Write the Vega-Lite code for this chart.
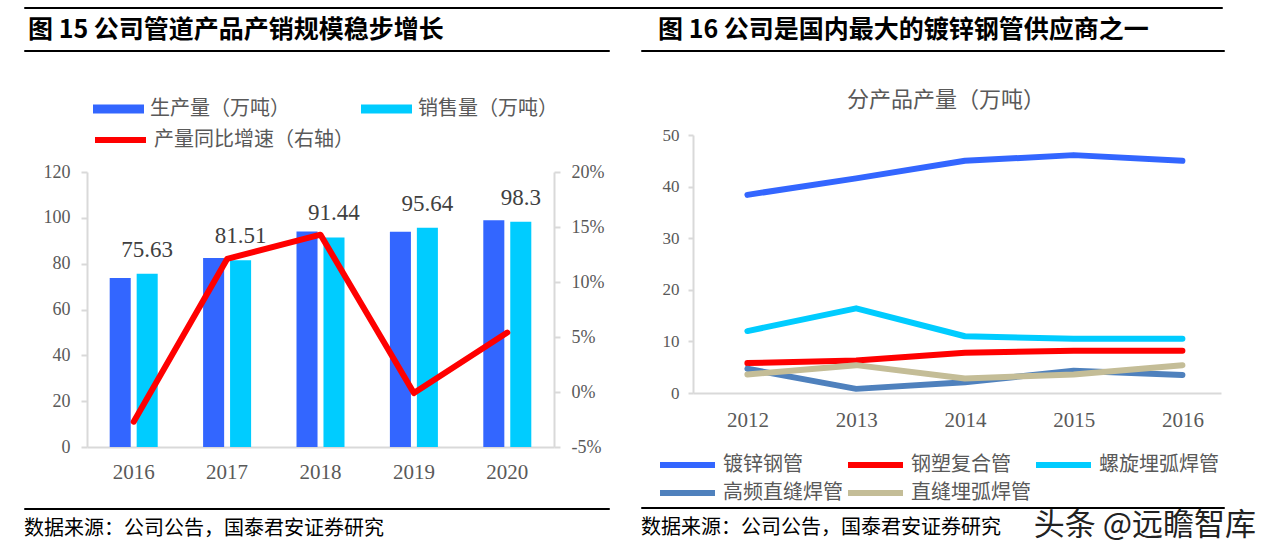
{
  "$schema": "https://vega.github.io/schema/vega-lite/v6.json",
  "background": "white",
  "padding": {"left": 23, "top": 6, "right": 0, "bottom": 0},
  "config": {
    "view": {"stroke": null},
    "axis": {"grid": false, "labelColor": "#595959", "labelFont": "Liberation Serif", "domainColor": "#D9D9D9", "domainWidth": 2, "tickColor": "#D9D9D9", "tickWidth": 2},
    "legend": {"labelFont": "Noto Sans CJK SC", "labelColor": "#595959", "labelFontSize": 20, "labelLimit": 400}
  },
  "datasets": {
    "bars": [
      {"year": "2016", "series": "生产量（万吨）", "value": 73.7},
      {"year": "2016", "series": "销售量（万吨）", "value": 75.63},
      {"year": "2017", "series": "生产量（万吨）", "value": 82.5},
      {"year": "2017", "series": "销售量（万吨）", "value": 81.51},
      {"year": "2018", "series": "生产量（万吨）", "value": 94.0},
      {"year": "2018", "series": "销售量（万吨）", "value": 91.44},
      {"year": "2019", "series": "生产量（万吨）", "value": 93.9},
      {"year": "2019", "series": "销售量（万吨）", "value": 95.64},
      {"year": "2020", "series": "生产量（万吨）", "value": 99.0},
      {"year": "2020", "series": "销售量（万吨）", "value": 98.3}
    ],
    "growth": [
      {"year": "2016", "growth": -0.027},
      {"year": "2017", "growth": 0.121},
      {"year": "2018", "growth": 0.143},
      {"year": "2019", "growth": -0.001},
      {"year": "2020", "growth": 0.054}
    ],
    "products": [
      {"year": "2012", "product": "镀锌钢管", "value": 38.4},
      {"year": "2013", "product": "镀锌钢管", "value": 41.6},
      {"year": "2014", "product": "镀锌钢管", "value": 45.0},
      {"year": "2015", "product": "镀锌钢管", "value": 46.1},
      {"year": "2016", "product": "镀锌钢管", "value": 45.0},
      {"year": "2012", "product": "钢塑复合管", "value": 5.8},
      {"year": "2013", "product": "钢塑复合管", "value": 6.3},
      {"year": "2014", "product": "钢塑复合管", "value": 7.8},
      {"year": "2015", "product": "钢塑复合管", "value": 8.2},
      {"year": "2016", "product": "钢塑复合管", "value": 8.2},
      {"year": "2012", "product": "螺旋埋弧焊管", "value": 12.0},
      {"year": "2013", "product": "螺旋埋弧焊管", "value": 16.4},
      {"year": "2014", "product": "螺旋埋弧焊管", "value": 11.0},
      {"year": "2015", "product": "螺旋埋弧焊管", "value": 10.5},
      {"year": "2016", "product": "螺旋埋弧焊管", "value": 10.5},
      {"year": "2012", "product": "高频直缝焊管", "value": 4.7},
      {"year": "2013", "product": "高频直缝焊管", "value": 0.8},
      {"year": "2014", "product": "高频直缝焊管", "value": 2.1},
      {"year": "2015", "product": "高频直缝焊管", "value": 4.3},
      {"year": "2016", "product": "高频直缝焊管", "value": 3.5},
      {"year": "2012", "product": "直缝埋弧焊管", "value": 3.6},
      {"year": "2013", "product": "直缝埋弧焊管", "value": 5.4},
      {"year": "2014", "product": "直缝埋弧焊管", "value": 2.8},
      {"year": "2015", "product": "直缝埋弧焊管", "value": 3.6},
      {"year": "2016", "product": "直缝埋弧焊管", "value": 5.4}
    ]
  },
  "title": {"text": "头条 @远瞻智库", "orient": "bottom", "anchor": "end", "frame": "group", "offset": -29, "dx": 1232, "fontSize": 31, "font": "Noto Sans CJK SC", "fontWeight": "normal", "color": "#222222"},
  "spacing": 8,
  "resolve": {"scale": {"color": "independent", "stroke": "independent"}, "legend": {"color": "independent", "stroke": "independent"}},
  "vconcat": [
    {
      "width": 1198, "height": 1,
      "data": {"values": []},
      "mark": "point",
      "encoding": {},
      "view": {"stroke": "#000000", "strokeWidth": 1}
    },
    {
      "spacing": 30,
      "resolve": {"scale": {"color": "independent", "stroke": "independent"}, "legend": {"color": "independent", "stroke": "independent"}},
      "hconcat": [
        {
          "spacing": 25,
          "resolve": {"scale": {"color": "independent", "stroke": "independent"}, "legend": {"color": "independent", "stroke": "independent"}},
          "vconcat": [
            {
              "width": 585, "height": 1,
              "title": {"text": "图 15 公司管道产品产销规模稳步增长", "anchor": "start", "frame": "group", "dx": 4, "fontSize": 25, "font": "Noto Sans CJK SC", "fontWeight": "bold", "color": "#000000", "offset": 7},
              "data": {"values": []},
              "mark": "point",
              "encoding": {
                "x": {"datum": 0, "type": "quantitative", "axis": {"domain": false, "ticks": false, "labels": false, "title": null, "minExtent": 22, "maxExtent": 22}}
              },
              "view": {"stroke": "#000000", "strokeWidth": 1}
            },
            {
              "width": 530, "height": 275,
              "layer": [
                {
                  "data": {"name": "bars"},
                  "mark": {"type": "bar"},
                  "encoding": {
                    "x": {"field": "year", "type": "nominal", "scale": {"range": [63, 530], "paddingInner": 0.486, "paddingOuter": 0.243}, "axis": {"title": null, "labelAngle": 0, "labelFontSize": 21, "ticks": false, "tickSize": 0, "labelPadding": 14}},
                    "xOffset": {"field": "series", "type": "nominal", "scale": {"domain": ["生产量（万吨）", "销售量（万吨）"], "paddingInner": 0.22}},
                    "y": {"field": "value", "type": "quantitative", "scale": {"domain": [0, 120]}, "axis": {"title": null, "offset": -63, "values": [0, 20, 40, 60, 80, 100, 120], "labelFontSize": 18, "tickSize": 6, "labelPadding": 11}},
                    "color": {"field": "series", "type": "nominal", "scale": {"domain": ["生产量（万吨）", "销售量（万吨）"], "range": ["#3366FF", "#00CCFF"]}, "legend": {"orient": "none", "legendX": 68, "legendY": -73, "direction": "horizontal", "columns": 2, "columnPadding": 70, "title": null, "symbolType": "M-1,-0.5H4.667V0.5H-1Z", "symbolSize": 324, "symbolStrokeWidth": 0, "labelOffset": 38}}
                  }
                },
                {
                  "data": {"name": "bars"},
                  "transform": [{"filter": "datum.series == '销售量（万吨）'"}],
                  "mark": {"type": "text", "baseline": "bottom", "dy": -12, "fontSize": 23, "font": "Liberation Serif", "color": "#404040"},
                  "encoding": {
                    "x": {"field": "year", "type": "nominal"},
                    "xOffset": {"field": "series", "type": "nominal"},
                    "y": {"field": "value", "type": "quantitative", "scale": {"domain": [0, 120]}, "axis": null},
                    "text": {"field": "value", "type": "quantitative", "format": "~g"}
                  }
                },
                {
                  "data": {"name": "growth"},
                  "mark": {"type": "line", "strokeWidth": 6, "strokeCap": "round", "strokeJoin": "round"},
                  "encoding": {
                    "x": {"field": "year", "type": "nominal"},
                    "y": {"field": "growth", "type": "quantitative", "scale": {"domain": [-0.05, 0.2]}, "axis": {"orient": "right", "title": null, "values": [-0.05, 0, 0.05, 0.1, 0.15, 0.2], "labelExpr": "round(datum.value*100) + '%'", "labelFontSize": 18, "tickSize": 6, "labelPadding": 11}},
                    "stroke": {"datum": "产量同比增速（右轴）", "type": "nominal", "scale": {"range": ["#FF0000"]}, "legend": {"orient": "none", "legendX": 68, "legendY": -44, "title": null, "symbolType": "M-1,0H4.667", "symbolSize": 324, "symbolStrokeWidth": 6, "labelOffset": 38}}
                  }
                }
              ],
              "resolve": {"scale": {"y": "independent"}}
            },
            {
              "width": 585, "height": 1,
              "title": {"text": "数据来源：公司公告，国泰君安证券研究", "orient": "bottom", "anchor": "start", "frame": "group", "fontSize": 20, "font": "Noto Sans CJK SC", "fontWeight": "normal", "color": "#000000", "offset": 10},
              "data": {"values": []},
              "mark": "point",
              "encoding": {},
              "view": {"stroke": "#000000", "strokeWidth": 1}
            }
          ]
        },
        {
          "spacing": 1,
          "resolve": {"scale": {"color": "independent", "stroke": "independent"}, "legend": {"color": "independent", "stroke": "independent"}},
          "vconcat": [
            {
              "width": 583, "height": 1,
              "title": {"text": "图 16 公司是国内最大的镀锌钢管供应商之一", "anchor": "start", "frame": "group", "dx": 17, "fontSize": 25, "font": "Noto Sans CJK SC", "fontWeight": "bold", "color": "#000000", "offset": 7},
              "data": {"values": []},
              "mark": "point",
              "encoding": {
                "x": {"datum": 0, "type": "quantitative", "axis": {"domain": false, "ticks": false, "labels": false, "title": null, "minExtent": 36, "maxExtent": 36}}
              },
              "view": {"stroke": "#000000", "strokeWidth": 1}
            },
            {
              "width": 580, "height": 258,
              "title": {"text": "分产品产量（万吨）", "anchor": "middle", "frame": "group", "dx": 15, "offset": 14, "fontSize": 22, "font": "Noto Sans CJK SC", "fontWeight": "normal", "color": "#595959"},
              "data": {"name": "products"},
              "mark": {"type": "line", "strokeWidth": 6, "strokeCap": "round", "strokeJoin": "round"},
              "encoding": {
                "x": {"field": "year", "type": "ordinal", "scale": {"type": "point", "range": [52, 580], "padding": 0.4275, "align": 0.585}, "axis": {"title": null, "labelAngle": 0, "labelFontSize": 21, "ticks": false, "tickSize": 0, "labelPadding": 16}},
                "y": {"field": "value", "type": "quantitative", "scale": {"domain": [0, 50]}, "axis": {"title": null, "offset": -52, "values": [0, 10, 20, 30, 40, 50], "labelFontSize": 17, "tickSize": 5, "labelPadding": 9}},
                "color": {"field": "product", "type": "nominal", "scale": {"domain": ["镀锌钢管", "钢塑复合管", "螺旋埋弧焊管", "高频直缝焊管", "直缝埋弧焊管"], "range": ["#3366FF", "#FF0000", "#00CCFF", "#4F81BD", "#C4BD97"]}, "legend": {"orient": "none", "legendX": 16, "legendY": 318, "direction": "horizontal", "columns": 3, "columnPadding": -7, "rowPadding": 4, "title": null, "symbolType": "M-1,0H5.111", "symbolSize": 324, "symbolStrokeWidth": 6, "labelOffset": 42}}
              }
            },
            {
              "width": 583, "height": 1,
              "title": {"text": "数据来源：公司公告，国泰君安证券研究", "orient": "bottom", "anchor": "start", "frame": "group", "fontSize": 20, "font": "Noto Sans CJK SC", "fontWeight": "normal", "color": "#000000", "offset": 10},
              "data": {"values": []},
              "mark": "point",
              "encoding": {},
              "view": {"stroke": "#000000", "strokeWidth": 1}
            }
          ]
        }
      ]
    }
  ]
}
